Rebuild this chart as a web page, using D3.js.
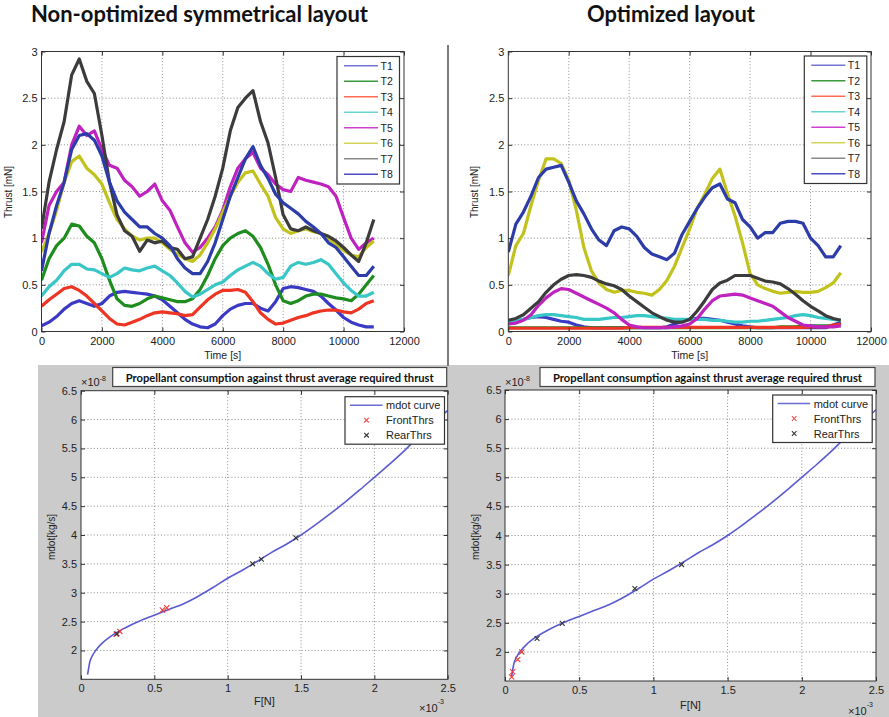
<!DOCTYPE html>
<html><head><meta charset="utf-8">
<script src="https://cdn.jsdelivr.net/npm/d3@7"></script>
<style>body{margin:0;background:#fff}svg{display:block}</style>
</head><body>
<svg id="c" width="889" height="717"></svg>
<script>
// ---------------- DATA ----------------
const timeS = [0,250,500,750,1000,1250,1500,1750,2000,2250,2500,2750,3000,3250,3500,3750,4000,4250,4500,4750,5000,5250,5500,5750,6000,6250,6500,6750,7000,7250,7500,7750,8000,8250,8500,8750,9000,9250,9500,9750,10000,10250,10500,10750,11000];
const seriesNames = ["T1","T2","T3","T4","T5","T6","T7","T8"];
const seriesColors = ["#3a3ac4","#1e8c1e","#ee3422","#38c6c6","#bf22bf","#c2c21c","#3c3c3c","#2c3ca8"];
const legendColors = ["#7474d4","#3a9a3a","#ff6a52","#6ad4d4","#d040d0","#d4d45a","#8a8a8a","#4a4ac2"];

// Non-optimized symmetrical layout (thrust, mN)
const leftT1 = [0.06,0.1,0.16,0.24,0.3,0.33,0.3,0.27,0.3,0.38,0.42,0.43,0.42,0.41,0.4,0.38,0.34,0.27,0.2,0.13,0.08,0.05,0.04,0.08,0.17,0.24,0.28,0.3,0.3,0.25,0.22,0.32,0.46,0.48,0.47,0.45,0.43,0.38,0.3,0.23,0.15,0.1,0.07,0.05,0.05];
const leftT2 = [0.55,0.78,0.92,1.0,1.15,1.13,1.02,0.95,0.78,0.55,0.35,0.28,0.27,0.3,0.35,0.38,0.36,0.34,0.32,0.32,0.35,0.45,0.6,0.78,0.92,1.0,1.05,1.08,1.02,0.9,0.72,0.5,0.33,0.3,0.33,0.38,0.4,0.4,0.38,0.36,0.35,0.33,0.4,0.5,0.6];
const leftT3 = [0.27,0.34,0.4,0.46,0.48,0.44,0.38,0.3,0.22,0.14,0.08,0.07,0.1,0.13,0.17,0.2,0.21,0.2,0.19,0.17,0.18,0.26,0.34,0.4,0.44,0.44,0.45,0.42,0.32,0.2,0.13,0.08,0.09,0.12,0.15,0.17,0.2,0.22,0.23,0.23,0.21,0.2,0.24,0.3,0.33];
const leftT4 = [0.38,0.48,0.55,0.65,0.72,0.72,0.67,0.66,0.62,0.58,0.62,0.68,0.66,0.65,0.68,0.7,0.65,0.6,0.52,0.43,0.37,0.4,0.45,0.5,0.53,0.6,0.66,0.7,0.74,0.7,0.62,0.56,0.58,0.7,0.74,0.72,0.74,0.77,0.72,0.62,0.52,0.44,0.38,0.38,0.42];
const leftT5 = [0.95,1.35,1.5,1.6,2.0,2.2,2.1,2.15,1.95,1.78,1.75,1.62,1.55,1.45,1.5,1.58,1.4,1.3,1.12,0.95,0.85,0.9,1.0,1.12,1.3,1.55,1.75,1.85,1.92,1.75,1.68,1.58,1.52,1.5,1.65,1.62,1.6,1.58,1.55,1.45,1.22,1.0,0.88,0.95,1.0];
const leftT6 = [0.85,1.05,1.3,1.6,1.82,1.88,1.75,1.68,1.58,1.38,1.2,1.1,1.02,0.98,1.0,1.0,0.95,0.88,0.83,0.78,0.75,0.82,0.95,1.1,1.28,1.45,1.6,1.7,1.72,1.58,1.45,1.22,1.1,1.05,1.08,1.1,1.07,1.05,1.0,0.93,0.87,0.82,0.8,0.9,0.97];
const leftT7 = [1.1,1.6,1.95,2.25,2.75,2.92,2.68,2.55,2.1,1.6,1.25,1.08,1.02,0.86,0.98,0.95,0.97,0.9,0.88,0.78,0.8,1.0,1.2,1.45,1.75,2.15,2.4,2.5,2.58,2.25,2.02,1.65,1.25,1.1,1.08,1.12,1.08,1.05,1.02,0.97,0.9,0.82,0.75,0.95,1.2];
const leftT8 = [0.65,1.05,1.35,1.6,1.95,2.1,2.12,2.05,1.88,1.6,1.4,1.28,1.2,1.12,1.12,1.05,1.0,0.92,0.78,0.68,0.62,0.62,0.75,0.95,1.2,1.45,1.65,1.85,1.98,1.78,1.64,1.47,1.38,1.32,1.26,1.18,1.12,1.05,0.95,0.9,0.8,0.7,0.6,0.6,0.7];

// Optimized layout (thrust, mN)
const rightT1 = [0.08,0.1,0.13,0.15,0.16,0.15,0.13,0.11,0.1,0.07,0.05,0.04,0.04,0.04,0.04,0.04,0.04,0.04,0.04,0.04,0.04,0.05,0.08,0.11,0.13,0.14,0.14,0.13,0.12,0.1,0.08,0.06,0.05,0.04,0.04,0.04,0.04,0.04,0.04,0.04,0.04,0.04,0.04,0.07,0.1];
const rightT2 = [0.04,0.04,0.04,0.04,0.04,0.04,0.04,0.04,0.04,0.04,0.04,0.04,0.04,0.04,0.04,0.04,0.04,0.04,0.04,0.04,0.04,0.04,0.04,0.04,0.04,0.04,0.04,0.04,0.04,0.04,0.04,0.04,0.04,0.04,0.04,0.04,0.05,0.05,0.05,0.06,0.06,0.06,0.06,0.06,0.07];
const rightT3 = [0.035,0.035,0.035,0.035,0.035,0.035,0.035,0.035,0.035,0.035,0.035,0.035,0.035,0.035,0.035,0.035,0.045,0.045,0.045,0.045,0.045,0.045,0.045,0.045,0.045,0.045,0.045,0.045,0.045,0.045,0.045,0.045,0.045,0.045,0.045,0.045,0.045,0.045,0.045,0.045,0.05,0.05,0.05,0.07,0.08];
const rightT4 = [0.11,0.12,0.13,0.15,0.17,0.18,0.18,0.17,0.16,0.15,0.13,0.13,0.13,0.14,0.15,0.15,0.16,0.17,0.17,0.16,0.15,0.14,0.13,0.13,0.13,0.13,0.13,0.12,0.12,0.11,0.1,0.1,0.11,0.11,0.12,0.13,0.14,0.15,0.17,0.18,0.17,0.15,0.14,0.13,0.12];
const rightT5 = [0.08,0.09,0.12,0.18,0.28,0.36,0.42,0.46,0.45,0.41,0.37,0.33,0.29,0.25,0.2,0.13,0.07,0.05,0.04,0.04,0.04,0.04,0.05,0.06,0.08,0.14,0.24,0.33,0.38,0.39,0.4,0.39,0.36,0.33,0.3,0.27,0.21,0.15,0.11,0.07,0.06,0.05,0.05,0.05,0.06];
const rightT6 = [0.6,0.92,1.05,1.35,1.62,1.85,1.85,1.8,1.62,1.3,0.9,0.65,0.52,0.45,0.42,0.44,0.44,0.42,0.41,0.39,0.45,0.55,0.7,0.9,1.1,1.32,1.47,1.64,1.74,1.48,1.24,0.95,0.62,0.5,0.46,0.43,0.41,0.42,0.43,0.42,0.42,0.43,0.47,0.52,0.63];
const rightT7 = [0.12,0.14,0.18,0.25,0.32,0.42,0.5,0.56,0.6,0.61,0.6,0.58,0.54,0.51,0.49,0.45,0.38,0.32,0.26,0.2,0.16,0.12,0.1,0.1,0.13,0.22,0.33,0.45,0.52,0.55,0.6,0.6,0.6,0.57,0.54,0.53,0.51,0.46,0.4,0.33,0.27,0.22,0.17,0.14,0.12];
const rightT8 = [0.85,1.15,1.28,1.45,1.65,1.74,1.76,1.78,1.6,1.4,1.26,1.1,0.98,0.92,1.08,1.12,1.1,1.02,0.9,0.83,0.8,0.77,0.84,1.04,1.18,1.32,1.44,1.54,1.58,1.42,1.38,1.2,1.12,1.0,1.06,1.06,1.16,1.18,1.18,1.16,1.0,0.92,0.8,0.8,0.92];

const thrustTicks = [0,0.5,1,1.5,2,2.5,3];
const timeTicks = [0,2000,4000,6000,8000,10000,12000];

// Propellant consumption curve (F in 1e-3 N, mdot in 1e-8 kg/s)
const forceF = [0.045,0.06,0.08,0.1,0.15,0.2,0.3,0.4,0.5,0.6,0.7,0.8,0.9,1.0,1.1,1.2,1.3,1.4,1.5,1.6,1.7,1.8,1.9,2.0,2.1,2.2,2.3,2.4,2.5];
const mdotCurve = [1.58,1.8,1.92,2.0,2.14,2.24,2.39,2.51,2.61,2.71,2.81,2.94,3.09,3.25,3.39,3.54,3.7,3.84,4.0,4.18,4.37,4.57,4.78,5.0,5.22,5.45,5.7,5.93,6.16];
const leftFrontF = [0.24,0.265,0.555,0.585];
const leftFrontM = [2.28,2.33,2.70,2.74];
const leftRearF = [0.245,1.17,1.23,1.465];
const leftRearM = [2.29,3.50,3.58,3.95];
const rightFrontF = [0.045,0.052,0.086,0.113];
const rightFrontM = [1.57,1.66,1.87,2.0];
const rightRearF = [0.216,0.386,0.875,1.19];
const rightRearM = [2.23,2.49,3.09,3.5];
const forceTicks = [0,0.5,1,1.5,2,2.5];
const mdotTicks = [2,2.5,3,3.5,4,4.5,5,5.5,6,6.5];

// ---------------- DRAW ----------------
const svg = d3.select("#c");
const tickFont = "'Liberation Sans', Arial, sans-serif";

svg.append("rect").attr("x",38).attr("y",365).attr("width",851).attr("height",352).attr("fill","#cbcbcb");
svg.append("line").attr("x1",448).attr("x2",448).attr("y1",45).attr("y2",366).attr("stroke","#7a7a7a").attr("stroke-width",2);

function heading(text, x, len){
  svg.append("text").attr("x",x).attr("y",22).text(text)
    .attr("font-family","Lato, 'Open Sans', sans-serif").attr("font-weight","bold").attr("font-size",22)
    .attr("fill","#111").attr("textLength",len).attr("lengthAdjust","spacingAndGlyphs");
}
heading("Non-optimized symmetrical layout", 31, 337);
heading("Optimized layout", 587, 168);

let clipId = 0;
function frame(g, x, y, xTicksV, yTicksV){
  const [x0,x1] = x.range(), [y0,y1] = y.range();
  g.append("rect").attr("x",x0).attr("y",y1).attr("width",x1-x0).attr("height",y0-y1).attr("fill","#fff");
  const grid = g.append("g").attr("stroke","#555").attr("stroke-width",0.9).attr("stroke-dasharray","1,2.2").attr("opacity",0.75);
  xTicksV.slice(1,-1).forEach(v=>grid.append("line").attr("x1",x(v)).attr("x2",x(v)).attr("y1",y1).attr("y2",y0));
  yTicksV.forEach(v=>{ if (Math.abs(y(v)-y0)>1 && Math.abs(y(v)-y1)>1) grid.append("line").attr("x1",x0).attr("x2",x1).attr("y1",y(v)).attr("y2",y(v)); });
}
function axes(g, x, y, xTicksV, yTicksV, xFmt, yFmt, xPad, yPad){
  const [x0,x1] = x.range(), [y0,y1] = y.range();
  const ax = g.append("g").attr("transform",`translate(0,${y0})`)
    .call(d3.axisBottom(x).tickValues(xTicksV).tickFormat(xFmt).tickSizeInner(-4).tickSizeOuter(0).tickPadding(xPad));
  const ay = g.append("g").attr("transform",`translate(${x0},0)`)
    .call(d3.axisLeft(y).tickValues(yTicksV).tickFormat(yFmt).tickSizeInner(-4).tickSizeOuter(0).tickPadding(yPad));
  const at = g.append("g").attr("transform",`translate(0,${y1})`)
    .call(d3.axisTop(x).tickValues(xTicksV).tickFormat("").tickSizeInner(-4).tickSizeOuter(0));
  const ar = g.append("g").attr("transform",`translate(${x1},0)`)
    .call(d3.axisRight(y).tickValues(yTicksV).tickFormat("").tickSizeInner(-4).tickSizeOuter(0));
  [ax,ay,at,ar].forEach(a=>{
    a.select(".domain").remove();
    a.selectAll("line").attr("stroke","#333");
    a.selectAll("text").attr("font-family",tickFont).attr("font-size",11).attr("fill","#222");
  });
  g.append("rect").attr("x",x0).attr("y",y1).attr("width",x1-x0).attr("height",y0-y1)
    .attr("fill","none").attr("stroke","#333").attr("stroke-width",1);
}
function clip(g, x, y){
  const id = "clip"+(clipId++);
  const [x0,x1] = x.range(), [y0,y1] = y.range();
  svg.append("clipPath").attr("id",id).append("rect").attr("x",x0).attr("y",y1).attr("width",x1-x0).attr("height",y0-y1);
  return g.append("g").attr("clip-path",`url(#${id})`);
}

function thrustPanel(x0, x1, series, legX, legY){
  const x = d3.scaleLinear().domain([0,12000]).range([x0,x1]);
  const y = d3.scaleLinear().domain([0,3]).range([331.5,51.5]);
  const g = svg.append("g");
  frame(g,x,y,timeTicks,thrustTicks);
  const cg = clip(g,x,y);
  const line = d3.line().x((d,i)=>x(timeS[i])).y(d=>y(d));
  series.forEach((s,i)=>{
    cg.append("path").datum(s).attr("d",line).attr("fill","none")
      .attr("stroke",seriesColors[i]).attr("stroke-width",3.2).attr("stroke-linejoin","round");
  });
  axes(g,x,y,timeTicks,thrustTicks,d3.format("d"),d=>String(d),6,4);
  g.append("text").attr("x",(x0+x1)/2).attr("y",359).attr("text-anchor","middle")
    .attr("font-family",tickFont).attr("font-size",10.5).attr("fill","#222").text("Time [s]");
  g.append("text").attr("transform",`translate(${x0-30},192) rotate(-90)`).attr("text-anchor","middle")
    .attr("font-family",tickFont).attr("font-size",10).attr("fill","#222").text("Thrust [mN]");
  const lw = 62.5, lh = 127.5;
  const lg = g.append("g").attr("transform",`translate(${legX},${legY})`);
  lg.append("rect").attr("width",lw).attr("height",lh).attr("fill","#fff").attr("stroke","#333").attr("stroke-width",1.2);
  seriesNames.forEach((n,i)=>{
    const yy = 9.3 + i*15.5;
    lg.append("line").attr("x1",7).attr("x2",41).attr("y1",yy).attr("y2",yy).attr("stroke",legendColors[i]).attr("stroke-width",1.6);
    lg.append("text").attr("x",43.5).attr("y",yy+3.8).text(n).attr("font-family",tickFont).attr("font-size",10.5).attr("fill","#222");
  });
}
thrustPanel(41.5, 404, [leftT1,leftT2,leftT3,leftT4,leftT5,leftT6,leftT7,leftT8], 337, 56.5);
thrustPanel(508.3, 871, [rightT1,rightT2,rightT3,rightT4,rightT5,rightT6,rightT7,rightT8], 804.3, 56);

function markerX(g, cx, cy, color, s){
  g.append("path").attr("d",`M${cx-s},${cy-s}L${cx+s},${cy+s}M${cx-s},${cy+s}L${cx+s},${cy-s}`)
    .attr("stroke",color).attr("stroke-width",1.1).attr("fill","none");
}

function mdotPanel(x0,x1,yb,yt, frontF, frontM, rearF, rearM, opt){
  const x = d3.scaleLinear().domain([0,2.5]).range([x0,x1]);
  const y = d3.scaleLinear().domain([1.5,6.5]).range([yb,yt]);
  const g = svg.append("g");
  frame(g,x,y,forceTicks,mdotTicks);
  const cg = clip(g,x,y);
  const line = d3.line().x((d,i)=>x(forceF[i])).y(d=>y(d)).curve(d3.curveMonotoneX);
  cg.append("path").datum(mdotCurve).attr("d",line).attr("fill","none").attr("stroke","#5a5ad2").attr("stroke-width",1.6);
  frontF.forEach((f,i)=>markerX(cg, x(f), y(frontM[i]), "#f03a3a", 2.6));
  rearF.forEach((f,i)=>markerX(cg, x(f), y(rearM[i]), "#333", 2.4));
  axes(g,x,y,forceTicks,mdotTicks,d=>String(d),d=>String(d),5,opt.yPad);
  g.append("rect").attr("x",opt.tbx).attr("y",367.5).attr("width",opt.tbw).attr("height",19)
    .attr("fill","#fff").attr("stroke","#444").attr("stroke-width",1.2);
  g.append("text").attr("x",opt.tbx+opt.tbw/2).attr("y",381.5).attr("text-anchor","middle")
    .attr("font-family","Lato, 'Open Sans', sans-serif").attr("font-weight","bold").attr("font-size",12)
    .attr("fill","#111").attr("textLength",opt.tbw-26).attr("lengthAdjust","spacingAndGlyphs")
    .text("Propellant consumption against thrust average required thrust");
  const e1 = g.append("text").attr("x",x0).attr("y",yt-4.5).attr("font-family",tickFont).attr("font-size",11).attr("fill","#222");
  e1.append("tspan").text("\u00d710");
  e1.append("tspan").attr("dy",-5).attr("font-size",7).text("-8");
  const e2 = g.append("text").attr("x",opt.ex).attr("y",opt.ey).attr("font-family",tickFont).attr("font-size",11).attr("fill","#222");
  e2.append("tspan").text("\u00d710");
  e2.append("tspan").attr("dy",-8).attr("font-size",7).text("-3");
  g.append("text").attr("x",(x0+x1)/2).attr("y",opt.fy).attr("text-anchor","middle")
    .attr("font-family",tickFont).attr("font-size",11).attr("fill","#222").text("F[N]");
  g.append("text").attr("transform",`translate(${x0-26},537) rotate(-90)`).attr("text-anchor","middle")
    .attr("font-family",tickFont).attr("font-size",10).attr("fill","#222").text("mdot[kg/s]");
  const lg = g.append("g").attr("transform",`translate(${opt.lx},${opt.ly})`);
  lg.append("rect").attr("width",99.5).attr("height",47.5).attr("fill","#fff").attr("stroke","#333").attr("stroke-width",1.2);
  const labels = ["mdot curve","FrontThrs","RearThrs"];
  labels.forEach((t,i)=>{
    const yy = 8.5 + i*15;
    if (i===0) lg.append("line").attr("x1",5).attr("x2",37.5).attr("y1",yy).attr("y2",yy).attr("stroke","#6a6ad4").attr("stroke-width",1.6);
    else markerX(lg, 21.5, yy, i===1?"#f05050":"#333", 2.3);
    lg.append("text").attr("x",41).attr("y",yy+4).text(t).attr("font-family",tickFont).attr("font-size",11).attr("fill","#222");
  });
}
mdotPanel(81, 447.7, 679.3, 390.7, leftFrontF, leftFrontM, leftRearF, leftRearM,
  {yPad:4, tbx:112.7, tbw:334, ex:419, ey:712, fy:705, lx:345, ly:396.7});
mdotPanel(505, 876, 681, 390, rightFrontF, rightFrontM, rightRearF, rightRearM,
  {yPad:3.5, tbx:540, tbw:335, ex:848, ey:715, fy:709, lx:772.7, ly:395});
</script>
</body></html>
